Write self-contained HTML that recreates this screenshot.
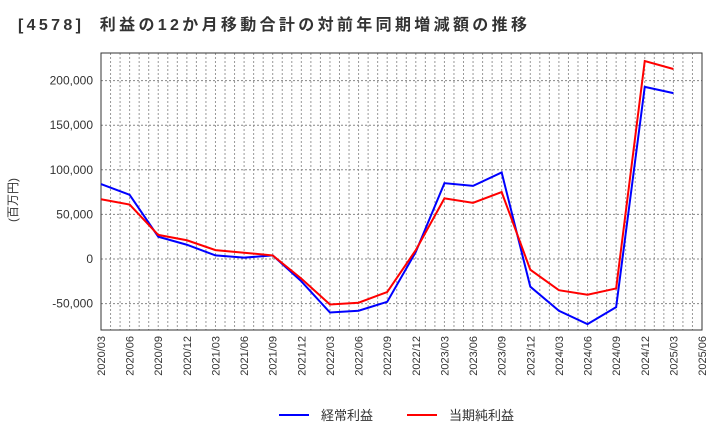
<!DOCTYPE html>
<html><head><meta charset="utf-8"><style>
body{margin:0;background:#fff;font-family:"Liberation Sans","Noto Sans CJK JP",sans-serif;}
svg text{font-family:"Liberation Sans","Noto Sans CJK JP",sans-serif;}
</style></head><body>
<svg id="c" width="720" height="440" viewBox="0 0 720 440">
<text x="18" y="30" font-size="16" font-weight="bold" fill="#333" textLength="509" lengthAdjust="spacing" xml:space="preserve">[4578]  利益の12か月移動合計の対前年同期増減額の推移</text>
<text transform="translate(17,200) rotate(-90)" font-size="12" fill="#333" text-anchor="middle">(百万円)</text>
<g id="grid"></g><g id="axes"></g><g id="lines"></g>
<g>
<line x1="279" y1="415" x2="309" y2="415" stroke="#0000ff" stroke-width="2"/>
<text x="321" y="420" font-size="13" fill="#333">経常利益</text>
<line x1="407" y1="415" x2="437" y2="415" stroke="#ff0000" stroke-width="2"/>
<text x="449" y="420" font-size="13" fill="#333">当期純利益</text>
</g>
</svg>
<script>
const categories=["2020/03","2020/06","2020/09","2020/12","2021/03","2021/06","2021/09","2021/12","2022/03","2022/06","2022/09","2022/12","2023/03","2023/06","2023/09","2023/12","2024/03","2024/06","2024/09","2024/12","2025/03","2025/06"];
const keijo=[84000,72000,25000,16000,4000,1500,4000,-25000,-60000,-58000,-48000,8000,85000,82000,97000,-31000,-58000,-73000,-54000,193000,186000];
const junri=[67000,61000,27000,21000,10000,7000,4000,-22000,-51000,-49000,-37000,10000,68000,63000,75000,-12000,-35000,-40000,-33000,222000,213000];
const yTicks=[-50000,0,50000,100000,150000,200000];
const yTickLabels=["-50,000","0","50,000","100,000","150,000","200,000"];
const NS="http://www.w3.org/2000/svg";
const L=101,R=702,T=53,B=330;
const y0=259,per=44.6/50000;
function ys(v){return y0-v*per;}
function xs(i){return L+i*(R-L)/(categories.length-1);}
function mk(tag,attrs,parent){const e=document.createElementNS(NS,tag);for(const k in attrs)e.setAttribute(k,attrs[k]);parent.appendChild(e);return e;}
const grid=document.getElementById('grid'),axes=document.getElementById('axes'),lines=document.getElementById('lines');
const months=(categories.length-1)*3;
for(let m=1;m<months;m++){const x=L+m*(R-L)/months;
 const g=mk('line',{x1:x,x2:x,y1:T,y2:B,stroke:'#999','stroke-width':1,'stroke-dasharray':'2,2'},grid);
 
 }
yTicks.forEach((v,i)=>{const y=ys(v);
 const g=mk('line',{x1:L,x2:R,y1:y,y2:y,stroke:'#888','stroke-width':1,'stroke-dasharray':'2,2'},grid);
 
 
 const t=mk('text',{x:L-8,y:y+4,'font-size':12,fill:'#333','text-anchor':'end'},axes);t.textContent=yTickLabels[i];
 
 });
categories.forEach((c,i)=>{const x=xs(i);
 const t=mk('text',{transform:`translate(${x+4},${B+6}) rotate(-90)`,'font-size':11,fill:'#333','text-anchor':'end'},axes);t.textContent=c;
 
 });
const fr=mk('rect',{x:L,y:T,width:R-L,height:B-T,fill:'none',stroke:'#333','stroke-width':1},axes);


function series(arr,color,name){const pts=arr.map((v,i)=>xs(i)+','+ys(v)).join(' ');
 const p=mk('polyline',{points:pts,fill:'none',stroke:color,'stroke-width':2},lines);
 
 }
series(keijo,'#0000ff','keijo-line');
series(junri,'#ff0000','junri-line');
</script>
</body></html>
